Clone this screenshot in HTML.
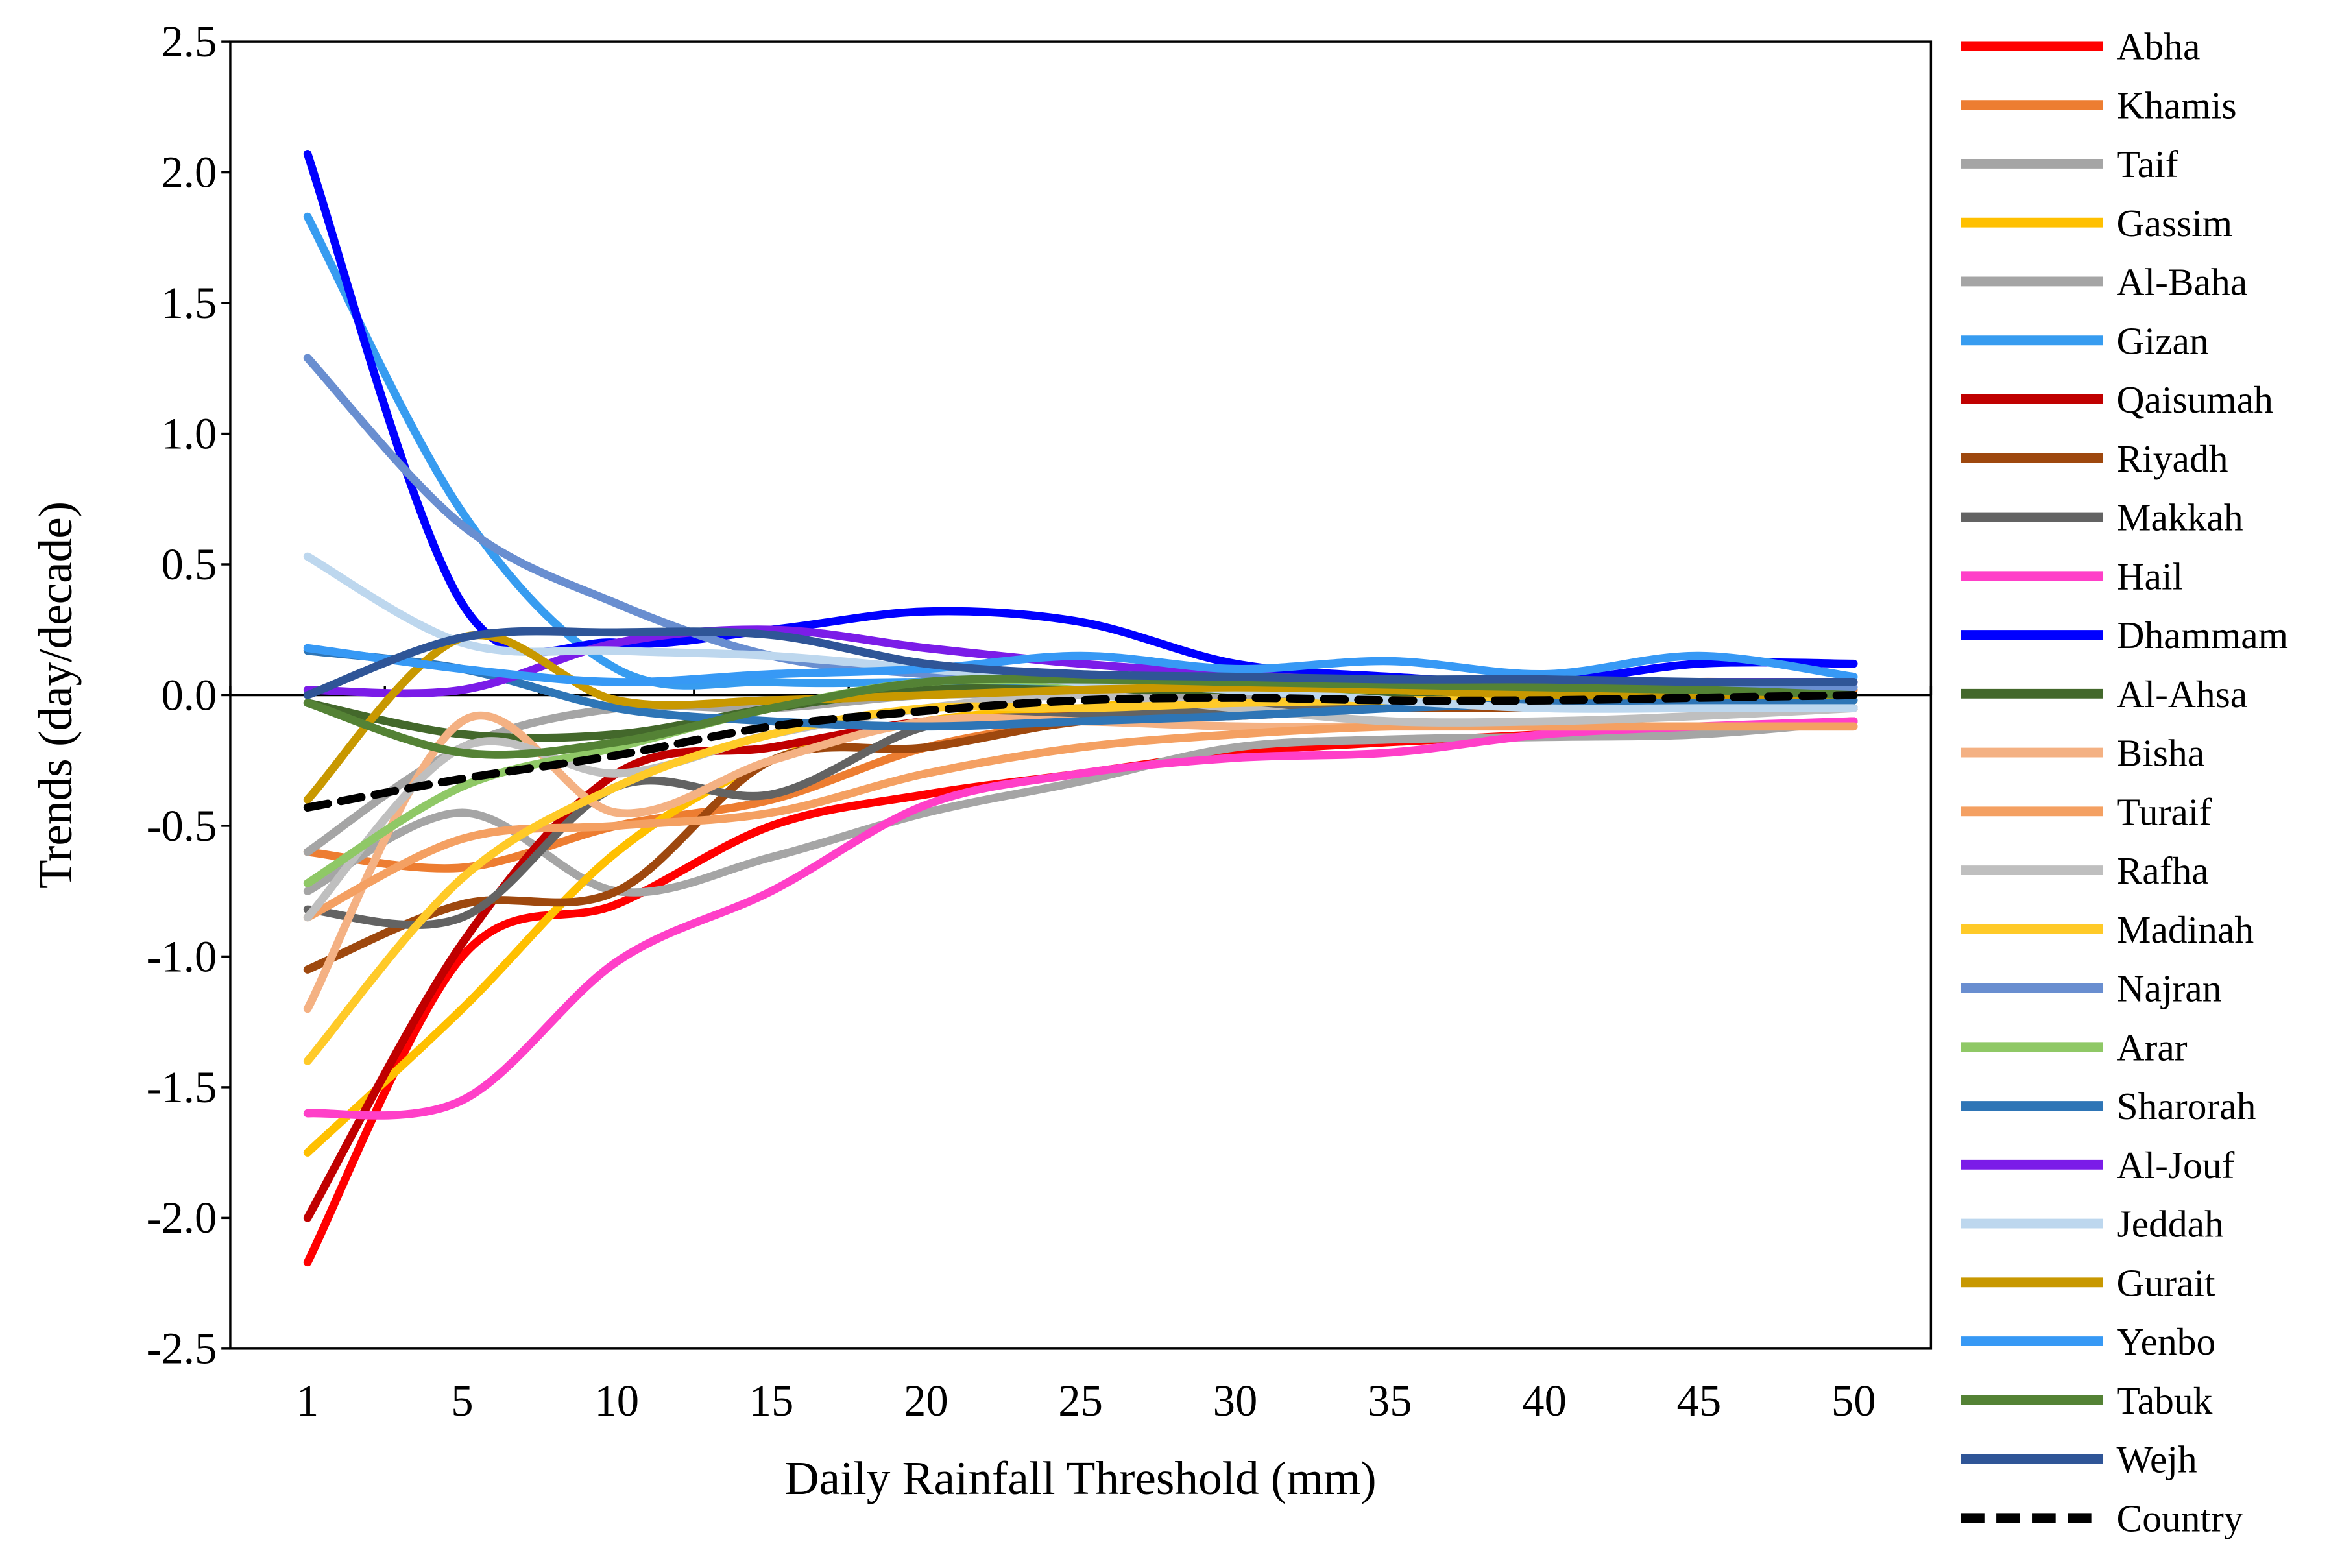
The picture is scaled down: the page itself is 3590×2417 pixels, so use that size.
<!DOCTYPE html>
<html><head><meta charset="utf-8"><style>
html,body{margin:0;padding:0;background:#fff;}
svg{display:block;font-family:"Liberation Serif",serif;}
</style></head><body>
<svg id="chart" width="3590" height="2417" viewBox="0 0 1568 1055.7" xmlns="http://www.w3.org/2000/svg">
<g id="plot"></g>
<g id="legend"></g>
</svg>
<script>
const categories=[1,5,10,15,20,25,30,35,40,45,50];
const yTicks=[2.5,2.0,1.5,1.0,0.5,0.0,-0.5,-1.0,-1.5,-2.0,-2.5];
const seriesNames=["Abha","Khamis","Taif","Gassim","Al-Baha","Gizan","Qaisumah","Riyadh","Makkah","Hail","Dhammam","Al-Ahsa","Bisha","Turaif","Rafha","Madinah","Najran","Arar","Sharorah","Al-Jouf","Jeddah","Gurait","Yenbo","Tabuk","Wejh","Country"];
const seriesColors=["#ff0000","#ed7d31","#a5a5a5","#ffc000","#a5a5a5","#379cf0","#c00000","#9e480e","#636363","#ff3fc8","#0000ff","#43682b","#f4b183","#f4a062","#bfbfbf","#ffca28","#698ed0","#8fc866","#2e75b6","#7b1ce8","#bdd7ee","#c89800","#3799f5","#548235","#2f5597","#000000"];
const abha=[-2.17,-1.0,-0.8,-0.5,-0.38,-0.3,-0.22,-0.18,-0.15,-0.13,-0.1];
const khamis=[-0.6,-0.66,-0.5,-0.4,-0.2,-0.1,-0.05,-0.03,0.0,0.05,0.02];
const taif=[-0.75,-0.45,-0.75,-0.62,-0.45,-0.33,-0.2,-0.17,-0.16,-0.15,-0.1];
const gassim=[-1.75,-1.2,-0.6,-0.25,-0.1,-0.05,0.0,0.0,0.0,0.0,0.0];
const albaha=[-0.6,-0.2,-0.05,-0.05,0.0,0.0,0.0,0.0,0.0,0.0,0.0];
const gizan=[1.83,0.7,0.1,0.05,0.05,0.05,0.05,0.02,0.0,0.0,0.0];
const qaisumah=[-2.0,-0.95,-0.3,-0.2,-0.1,-0.08,-0.05,-0.05,-0.05,-0.05,-0.05];
const riyadh=[-1.05,-0.8,-0.75,-0.25,-0.2,-0.1,-0.08,-0.05,-0.05,-0.05,-0.05];
const makkah=[-0.82,-0.85,-0.35,-0.38,-0.12,-0.08,-0.05,-0.02,0.0,0.0,0.0];
const hail=[-1.6,-1.55,-1.02,-0.75,-0.42,-0.3,-0.24,-0.22,-0.15,-0.12,-0.1];
const dhammam=[2.07,0.35,0.2,0.25,0.32,0.28,0.12,0.07,0.05,0.12,0.12];
const alahsa=[-0.03,-0.15,-0.15,-0.05,0.02,0.02,0.02,0.01,0.0,0.0,0.0];
const bisha=[-1.2,-0.1,-0.45,-0.25,-0.1,-0.1,-0.12,-0.12,-0.12,-0.12,-0.12];
const turaif=[-0.85,-0.55,-0.5,-0.45,-0.3,-0.2,-0.15,-0.12,-0.12,-0.12,-0.12];
const rafha=[-0.85,-0.2,-0.3,-0.15,-0.05,0.0,-0.05,-0.1,-0.1,-0.08,-0.05];
const madinah=[-1.4,-0.7,-0.35,-0.15,-0.05,-0.05,-0.03,-0.02,-0.02,-0.02,-0.02];
const najran=[1.29,0.65,0.35,0.15,0.08,0.05,0.03,0.03,0.03,0.03,0.03];
const arar=[-0.72,-0.35,-0.2,-0.05,0.05,0.05,0.03,0.02,0.0,0.0,0.0];
const sharorah=[0.17,0.1,-0.05,-0.1,-0.12,-0.1,-0.08,-0.05,-0.03,-0.02,-0.02];
const aljouf=[0.02,0.02,0.2,0.25,0.18,0.12,0.08,0.05,0.05,0.05,0.05];
const jeddah=[0.53,0.2,0.17,0.15,0.1,0.05,0.02,-0.02,-0.05,-0.05,-0.05];
const gurait=[-0.4,0.22,-0.02,-0.02,0.0,0.02,0.03,0.02,0.0,0.0,0.0];
const yenbo=[0.18,0.1,0.05,0.08,0.1,0.15,0.1,0.13,0.08,0.15,0.07];
const tabuk=[-0.03,-0.22,-0.18,-0.05,0.05,0.06,0.05,0.04,0.03,0.02,0.0];
const wejh=[0.0,0.22,0.24,0.23,0.12,0.08,0.07,0.06,0.06,0.05,0.05];
const country=[-0.43,-0.32,-0.23,-0.12,-0.06,-0.02,-0.01,-0.02,-0.02,-0.01,0.0];
const seriesValues=[abha,khamis,taif,gassim,albaha,gizan,qaisumah,riyadh,makkah,hail,dhammam,alahsa,bisha,turaif,rafha,madinah,najran,arar,sharorah,aljouf,jeddah,gurait,yenbo,tabuk,wejh,country];

const NS="http://www.w3.org/2000/svg";
const L=155,R=1300,T=28,B=908;
const band=(R-L)/categories.length;
const xPos=i=>L+band*(i+0.5);
const yPos=v=>T+(2.5-v)/5*(B-T);
function mk(tag,attrs,parent){const e=document.createElementNS(NS,tag);for(const k in attrs)e.setAttribute(k,attrs[k]);parent.appendChild(e);return e;}
const plot=document.getElementById('plot');
const legend=document.getElementById('legend');

const frame=mk('rect',{x:L,y:T,width:R-L,height:B-T,fill:'none',stroke:'#000','stroke-width':1.5},plot);



yTicks.forEach(v=>{
  const y=yPos(v);
  const tk=mk('line',{x1:L-6,x2:L,y1:y,y2:y,stroke:'#000','stroke-width':1.5},plot);
  
  
  const t=mk('text',{x:L-9,y:y+10,'text-anchor':'end','font-size':30},plot);
  t.textContent=v.toFixed(1);
  
  
});
const zl=mk('line',{x1:L,x2:R,y1:yPos(0),y2:yPos(0),stroke:'#000','stroke-width':1.5},plot);


for(let i=0;i<=categories.length;i++){
  const x=L+band*i;
  const tk=mk('line',{x1:x,x2:x,y1:yPos(0)-6,y2:yPos(0),stroke:'#000','stroke-width':1.5},plot);
  
  
}
categories.forEach((c,i)=>{
  const t=mk('text',{x:xPos(i),y:B+45,'text-anchor':'middle','font-size':30},plot);
  t.textContent=c;
  
  
});
const xt=mk('text',{x:(L+R)/2,y:1006,'text-anchor':'middle','font-size':32},plot);
xt.textContent='Daily Rainfall Threshold (mm)';


const yt=mk('text',{x:0,y:0,'text-anchor':'middle','font-size':32,transform:'translate(48,468) rotate(-90)'},plot);
yt.textContent='Trends (day/decade)';



function smoothPath(vals){
  const p=vals.map((v,i)=>[xPos(i),yPos(v)]);
  let d='M'+p[0][0]+','+p[0][1];
  for(let i=0;i<p.length-1;i++){
    const p0=p[i-1]||p[i],p1=p[i],p2=p[i+1],p3=p[i+2]||p2;
    const c1=[p1[0]+(p2[0]-p0[0])/6,p1[1]+(p2[1]-p0[1])/6];
    const c2=[p2[0]-(p3[0]-p1[0])/6,p2[1]-(p3[1]-p1[1])/6];
    d+=' C'+c1.join(',')+' '+c2.join(',')+' '+p2.join(',');
  }
  return d;
}
seriesValues.forEach((vals,k)=>{
  const isC=k===seriesValues.length-1;
  const path=mk('path',{d:smoothPath(vals),fill:'none',stroke:seriesColors[k],'stroke-width':5.5,'stroke-linecap':'round','stroke-dasharray':isC?'14 9':'none'},plot);
  
  
  const ly=31+k*39.64;
  const ll=mk('line',{x1:1320,x2:1416,y1:ly,y2:ly,stroke:seriesColors[k],'stroke-width':6.5,'stroke-dasharray':isC?'16 8':'none'},legend);
  
  
  const lt=mk('text',{x:1425,y:ly+9,'font-size':26},legend);
  lt.textContent=seriesNames[k];
  
  
});
</script>
</body></html>
